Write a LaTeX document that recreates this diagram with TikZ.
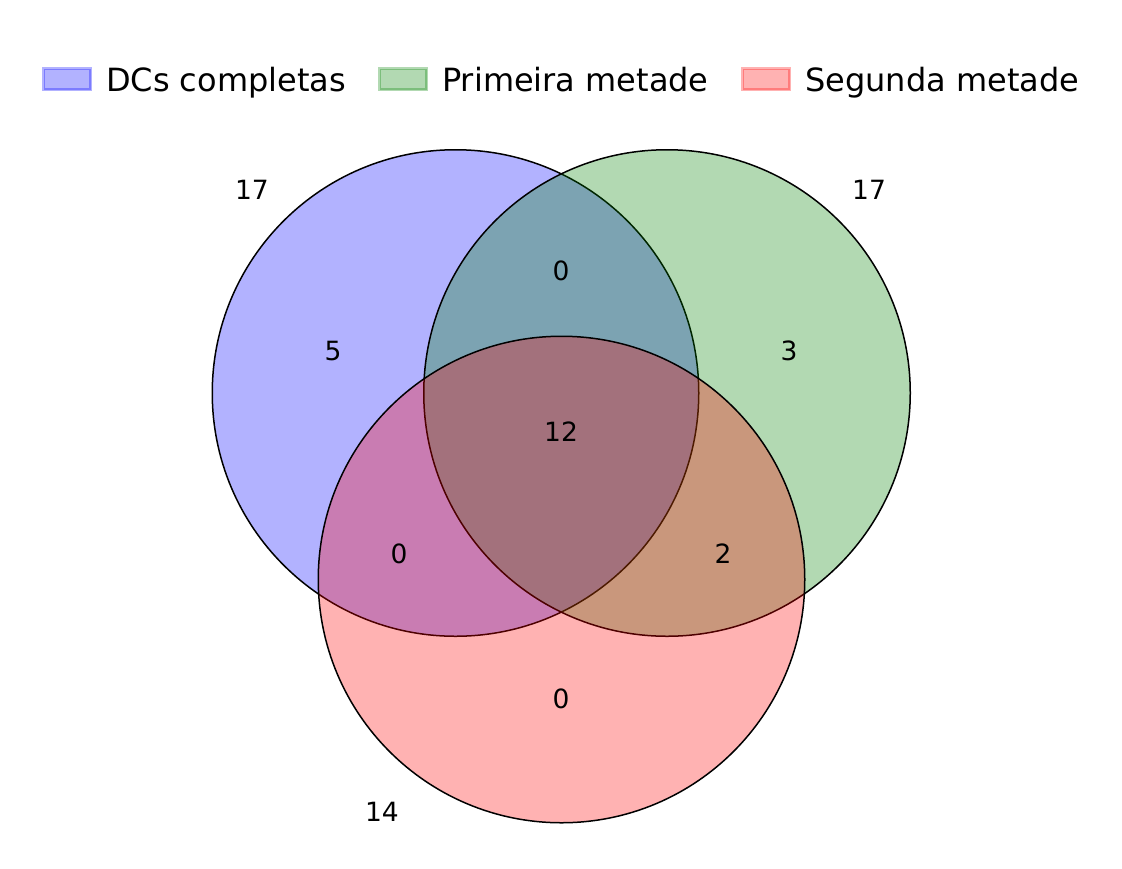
\documentclass[tikz,border=0pt]{standalone}
\usepackage{fontspec}
\setmainfont{DejaVu Sans}
\usepackage{xcolor}
\usepackage{tikz}
\usetikzlibrary{positioning}
\definecolor{vgreen}{RGB}{0,128,0}
\tikzset {
  x=1pt, y=-1pt,
  % circles of the diagram
  venn/.style = {draw=black, circle, line width=1.5pt, fill opacity=0.3, inner sep=0pt, minimum size=486.5pt},
  % region counts
  count/.style={inner sep=0pt, font=\fontsize{26.5}{31}\selectfont},
  % legend boxes and texts
  key/.style={line width=3pt, draw opacity=0.3, fill opacity=0.3},
  keytext/.style={anchor=base west, inner sep=0pt, font=\fontsize{32}{38}\selectfont},
}

\begin{document}
\begin{tikzpicture}
        \useasboundingbox (0,0) rectangle (1122,868);

        \node[venn, fill=blue] (dcs) at (455.5,393) {};
        \node[venn, fill=vgreen] (first) at (667,393) {};
        \node[venn, fill=red] (second) at (561.5,579.5) {};

        % set sizes
        \node[count] (ndcs) at (252,190) {17};
        \node[count] (nfirst) at (869,190) {17};
        \node[count] (nsecond) at (382,812) {14};

        % regions
        \node[count] (r100) at (333,351) {5};
        \node[count] (r010) at (789,351) {3};
        \node[count] (r110) at (561,271) {0};
        \node[count] (r111) at (561,432) {12};
        \node[count] (r101) at (399,554) {0};
        \node[count] (r011) at (723,554) {2};
        \node[count] (r001) at (561,699) {0};

        % legend
        \draw[key, draw=blue, fill=blue] (43.5,68.5) rectangle (90.5,89.5);
        \node[keytext] (ldcs) at (106,91) {DCs completas};
        \draw[key, draw=vgreen, fill=vgreen] (379.5,68.5) rectangle (426.5,89.5);
        \node[keytext] (lfirst) at (442,91) {Primeira metade};
        \draw[key, draw=red, fill=red] (742.5,68.5) rectangle (789.5,89.5);
        \node[keytext] (lsecond) at (805,91) {Segunda metade};
      \end{tikzpicture}
\end{document}
